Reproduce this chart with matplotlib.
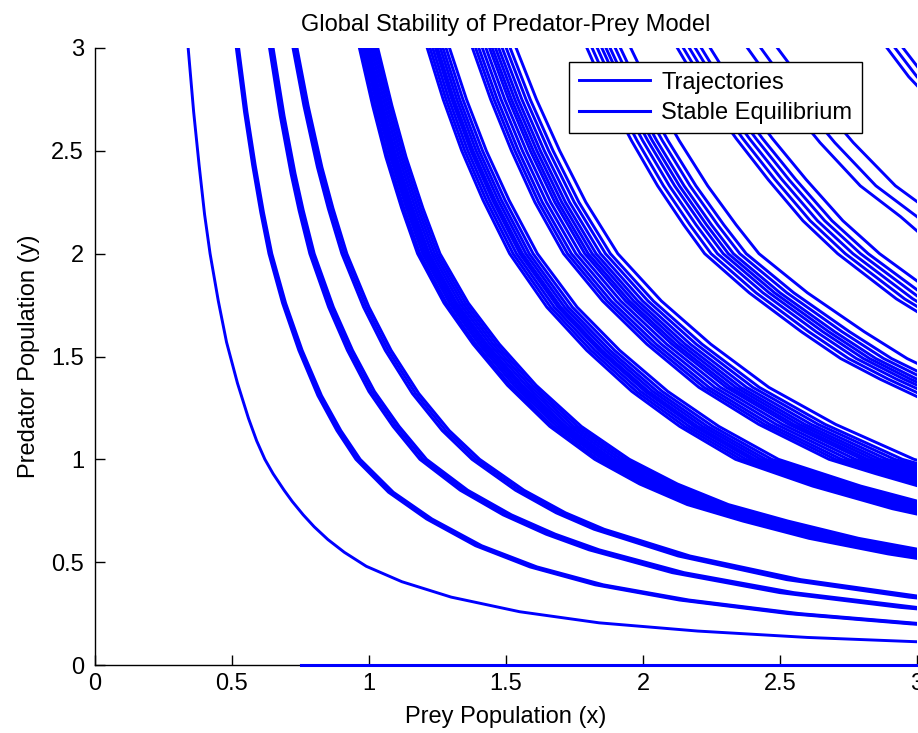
import matplotlib

matplotlib.use("Agg")

import matplotlib.pyplot as plt
import numpy as np

plt.rcParams["font.family"] = ["Liberation Sans", "DejaVu Sans"]

# centre line of each bundle of trajectories
c1_x = [0.34, 0.36, 0.38, 0.40, 0.42, 0.45, 0.48, 0.52, 0.56, 0.59, 0.62, 0.65, 0.69, 0.72, 0.76, 0.80, 0.85, 0.91, 0.99, 1.12, 1.30, 1.55, 1.84, 2.2, 2.6, 3.0, 3.3]
c1_y = [3.0, 2.69, 2.43, 2.19, 2.0, 1.77, 1.57, 1.37, 1.20, 1.09, 1.0, 0.93, 0.85, 0.795, 0.73, 0.672, 0.61, 0.548, 0.48, 0.405, 0.33, 0.259, 0.205, 0.165, 0.134, 0.113, 0.10]
c2_x = [0.52, 0.55, 0.58, 0.61, 0.64, 0.69, 0.75, 0.82, 0.89, 0.96, 1.08, 1.22, 1.4, 1.6, 1.84, 2.15, 2.55, 3.0, 3.3]
c2_y = [3.0, 2.69, 2.43, 2.20, 2.0, 1.76, 1.53, 1.31, 1.14, 1.0, 0.84, 0.71, 0.58, 0.477, 0.39, 0.316, 0.25, 0.20, 0.176]
c3_x = [0.65, 0.69, 0.73, 0.76, 0.80, 0.87, 0.94, 1.02, 1.11, 1.21, 1.36, 1.52, 1.68, 1.84, 2.15, 2.55, 3.0, 3.3]
c3_y = [3.0, 2.67, 2.39, 2.21, 2.0, 1.74, 1.53, 1.33, 1.16, 1.0, 0.85, 0.73, 0.636, 0.56, 0.449, 0.352, 0.28, 0.245]
c4_x = [0.73, 0.77, 0.82, 0.86, 0.91, 0.99, 1.07, 1.17, 1.28, 1.39, 1.55, 1.7, 1.84, 2.15, 2.55, 3.0, 3.3]
c4_y = [3.0, 2.72, 2.42, 2.22, 2.0, 1.74, 1.53, 1.32, 1.14, 1.0, 0.85, 0.74, 0.66, 0.53, 0.415, 0.33, 0.288]
b5_x = [1.0, 1.05, 1.1, 1.16, 1.22, 1.32, 1.43, 1.56, 1.72, 1.89, 2.06, 2.24, 2.45, 2.7, 3.0, 3.3]
b5_y = [3.0, 2.72, 2.47, 2.22, 2.0, 1.76, 1.56, 1.36, 1.16, 1.0, 0.88, 0.78, 0.70, 0.616, 0.54, 0.48]
b6_x = [1.25, 1.31, 1.38, 1.46, 1.56, 1.7, 1.85, 2.02, 2.2, 2.41, 2.7, 3.0, 3.3]
b6_y = [3.0, 2.75, 2.50, 2.26, 2.0, 1.74, 1.53, 1.33, 1.16, 1.0, 0.87, 0.76, 0.675]
b7_x = [1.45, 1.52, 1.6, 1.69, 1.8, 1.95, 2.12, 2.32, 2.55, 2.82, 3.0, 3.3]
b7_y = [3.0, 2.75, 2.50, 2.25, 2.0, 1.77, 1.56, 1.35, 1.17, 1.0, 0.93, 0.82]
b8_x = [1.88, 1.96, 2.05, 2.15, 2.25, 2.33, 2.5, 2.7, 2.85, 3.0, 3.3]
b8_y = [3.0, 2.77, 2.55, 2.33, 2.14, 2.0, 1.81, 1.62, 1.49, 1.39, 1.21]
b9_x = [2.18, 2.28, 2.4, 2.52, 2.65, 2.78, 3.0, 3.3]
b9_y = [3.0, 2.78, 2.56, 2.36, 2.16, 2.0, 1.78, 1.54]
b10_x = [2.43, 2.55, 2.7, 2.85, 3.0, 3.3]
b10_y = [3.0, 2.78, 2.54, 2.33, 2.18, 1.84]
b11_x = [2.92, 3.0, 3.3]
b11_y = [3.0, 2.86, 2.44]

# how far each member of a bundle sits from its centre line (x stretch)
c1_spread = [1.0]
c2_spread = [0.992, 1.0, 1.008]
c3_spread = [0.98, 0.99, 1.0]
c4_spread = [0.99, 1.0, 1.01]
b5_spread = [0.965, 0.972, 0.98, 0.987, 0.994, 1.0, 1.008, 1.016, 1.024, 1.032]
b6_spread = [0.97, 0.978, 0.986, 0.994, 1.0, 1.008, 1.016, 1.025, 1.035]
b7_spread = [0.95, 0.958, 0.966, 0.975, 0.984, 0.993, 1.0, 1.008, 1.016, 1.025, 1.035, 1.045, 1.06]
b8_spread = [0.955, 0.965, 0.975, 0.984, 0.992, 1.0, 1.01, 1.02, 1.04]
b9_spread = [0.975, 0.985, 0.995, 1.005, 1.015, 1.03]
b10_spread = [0.98, 1.0, 1.025]
b11_spread = [0.99, 1.0, 1.01]

equilibrium_x = [0.75, 3.0]
equilibrium_y = [0.0, 0.0]

ticks = [0, 0.5, 1, 1.5, 2, 2.5, 3]
tick_labels = ["0", "0.5", "1", "1.5", "2", "2.5", "3"]

bundles = [
    (c1_x, c1_y, c1_spread),
    (c2_x, c2_y, c2_spread),
    (c3_x, c3_y, c3_spread),
    (c4_x, c4_y, c4_spread),
    (b5_x, b5_y, b5_spread),
    (b6_x, b6_y, b6_spread),
    (b7_x, b7_y, b7_spread),
    (b8_x, b8_y, b8_spread),
    (b9_x, b9_y, b9_spread),
    (b10_x, b10_y, b10_spread),
    (b11_x, b11_y, b11_spread),
]

fig = plt.figure(figsize=(9.18, 7.33), dpi=100)
ax = fig.add_axes([95 / 918, 68 / 733, 822 / 918, 617 / 733])

blue = "#0000ff"
first = None
for xs, ys, spread in bundles:
    for s in spread:
        (line,) = ax.plot(np.array(xs) * s, ys, color=blue, lw=2.1,
                          solid_joinstyle="round")
        if first is None:
            first = line

(eq_line,) = ax.plot(equilibrium_x, equilibrium_y, color=blue, lw=2.2,
                     clip_on=False, zorder=5)

ax.set_xlim(0, 3)
ax.set_ylim(0, 3)
ax.set_xticks(ticks)
ax.set_xticklabels(tick_labels)
ax.set_yticks(ticks)
ax.set_yticklabels(tick_labels)
ax.tick_params(direction="in", length=7, width=1, labelsize=17)
ax.tick_params(axis="x", pad=6)
ax.tick_params(axis="y", pad=8)
for side in ("top", "right"):
    ax.spines[side].set_visible(False)
for side in ("left", "bottom"):
    ax.spines[side].set_linewidth(1)

ax.set_title("Global Stability of Predator-Prey Model", fontsize=17, pad=12)
ax.set_xlabel("Prey Population (x)", fontsize=17, labelpad=8)
ax.set_ylabel("Predator Population (y)", fontsize=17, labelpad=8)

leg = ax.legend([first, eq_line], ["Trajectories", "Stable Equilibrium"],
                loc="upper right", bbox_to_anchor=(0.933, 0.977),
                fontsize=17, fancybox=False, framealpha=1,
                edgecolor="black", handlelength=3.0, borderpad=0.4,
                labelspacing=0.35, handletextpad=0.5, borderaxespad=0)
leg.get_frame().set_linewidth(1)

fig.savefig("out.png", dpi=100)
